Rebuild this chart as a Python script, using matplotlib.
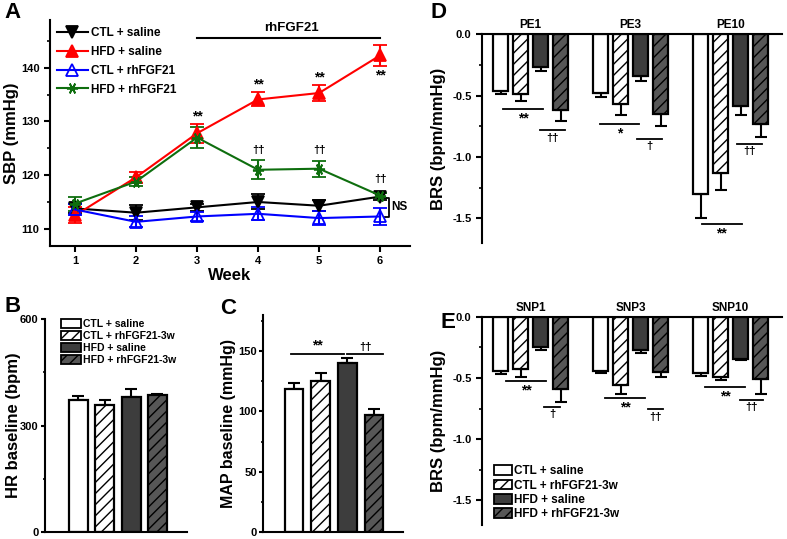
import numpy as np
import matplotlib
matplotlib.use("Agg")
import matplotlib.pyplot as plt
from matplotlib.patches import Patch
from matplotlib.lines import Line2D
from matplotlib.ticker import AutoMinorLocator
import matplotlib.transforms as mtrans

plt.rcParams['font.family'] = ['Liberation Sans', 'DejaVu Sans']
plt.rcParams['font.weight'] = 'bold'
plt.rcParams['axes.unicode_minus'] = False
plt.rcParams['axes.linewidth'] = 1.5

# ---- panel A data (SBP by week) ----
weeks = [1, 2, 3, 4, 5, 6]
ctl_saline = [113.8, 113.0, 114.0, 115.0, 114.3, 116.0]
ctl_saline_err = [0.8, 1.4, 0.7, 1.4, 1.0, 0.7]
hfd_saline = [112.5, 119.6, 127.8, 134.1, 135.3, 142.3]
hfd_saline_err = [1.5, 1.0, 1.8, 1.3, 1.5, 1.9]
ctl_rh = [113.6, 111.3, 112.3, 112.8, 112.0, 112.3]
ctl_rh_err = [1.0, 1.0, 0.9, 1.2, 1.3, 1.6]
hfd_rh = [114.7, 118.8, 127.0, 121.0, 121.2, 116.2]
hfd_rh_err = [1.3, 0.8, 2.0, 1.8, 1.5, 0.5]
a_labels = ['CTL + saline', 'HFD + saline', 'CTL + rhFGF21', 'HFD + rhFGF21']
a_stars = [(3, 130.9, '**'), (4, 136.8, '**'), (5, 138.2, '**'), (6, 138.5, '**')]
a_daggers = [(4, 124.7, '††'), (5, 124.7, '††'), (6, 119.2, '††')]

# ---- bar groups ----
groups = ['CTL + saline', 'CTL + rhFGF21-3w', 'HFD + saline', 'HFD + rhFGF21-3w']
hr_vals = [371, 358, 380, 386]
hr_err = [12, 13, 24, 3]
map_vals = [118.5, 125.5, 140, 97]
map_err = [5.5, 6, 4, 5]

pe_labels = ['PE1', 'PE3', 'PE10']
pe_vals = [[-0.46, -0.49, -0.27, -0.62],
           [-0.48, -0.57, -0.34, -0.65],
           [-1.30, -1.13, -0.58, -0.73]]
pe_err = [[0.03, 0.05, 0.03, 0.09],
          [0.03, 0.09, 0.04, 0.10],
          [0.20, 0.14, 0.08, 0.11]]
pe_sig = [(0.13, 2.13, -0.61, '**'), (1.98, 3.23, -0.78, '††'),
          (4.98, 6.93, -0.73, '*'), (6.83, 8.07, -0.85, '†'),
          (10.06, 12.06, -1.545, '**'), (11.84, 13.06, -0.89, '††')]

snp_labels = ['SNP1', 'SNP3', 'SNP10']
snp_vals = [[-0.44, -0.43, -0.25, -0.59],
            [-0.44, -0.56, -0.27, -0.45],
            [-0.46, -0.49, -0.345, -0.51]]
snp_err = [[0.03, 0.06, 0.02, 0.11],
           [0.02, 0.07, 0.03, 0.04],
           [0.02, 0.03, 0.01, 0.12]]
snp_sig = [(0.28, 2.28, -0.527, '**'), (2.18, 2.98, -0.735, '†'),
           (5.23, 7.23, -0.66, '**'), (7.38, 8.13, -0.757, '††'),
           (10.23, 12.23, -0.573, '**'), (11.98, 13.13, -0.676, '††')]

faces = ['white', 'white', '#3d3d3d', '#575757']
hatches = [None, '///', None, '///']

W, H = 787, 539
fig = plt.figure(figsize=(W / 100, H / 100), dpi=100)


def rect(l, r, t, b):
    return [l / W, 1 - b / H, (r - l) / W, (b - t) / H]


def style_ax(ax, pad=3.5, length=4):
    ax.tick_params(direction='out', width=1.5, length=length, labelsize=8, pad=pad)
    ax.tick_params(which='minor', direction='out', width=1.2, length=length * 0.6)
    for lab in ax.get_xticklabels() + ax.get_yticklabels():
        lab.set_fontweight('bold')


def place_ylabel(ax, text, right_px, l, r, size=12):
    ax.set_ylabel(text, fontsize=size, fontweight='bold')
    ax.yaxis.set_label_coords((right_px - l) / (r - l), 0.5)


# ---------------- A ----------------
ax = fig.add_axes(rect(50, 410, 20, 246))
series = [(ctl_saline, ctl_saline_err, 'black', 'v', 'black'),
          (hfd_saline, hfd_saline_err, '#ff0000', '^', '#ff0000'),
          (ctl_rh, ctl_rh_err, '#0000ff', '^', 'none'),
          (hfd_rh, hfd_rh_err, '#0e6e0e', (6, 2, 90), '#0e6e0e')]
handles = []
for (vals, err, col, mk, fc), lab in zip(series, a_labels):
    ax.errorbar(weeks, vals, yerr=err, color=col, lw=1.5, marker=mk, ms=8,
                mfc=fc, mec=col, mew=1.3, capsize=5, capthick=1.5, elinewidth=1.5)
    handles.append(Line2D([], [], color=col, lw=1.5, marker=mk, ms=8, mfc=fc, mec=col, mew=1.3))
ax.set_xlim(0.59, 6.49)
ax.set_ylim(106.8, 148.9)
ax.set_xticks(weeks)
ax.set_yticks([110, 120, 130, 140])
ax.yaxis.set_minor_locator(AutoMinorLocator(2))
ax.spines['top'].set_visible(False)
ax.spines['right'].set_visible(False)
style_ax(ax)
ax.set_xlabel('Week', fontsize=12, fontweight='bold', labelpad=1)
place_ylabel(ax, 'SBP (mmHg)', 19, 50, 410)
leg = ax.legend(handles, a_labels, loc='upper left', bbox_to_anchor=(0.0, 1.0), frameon=False,
                prop={'size': 8.5, 'weight': 'bold'}, handlelength=2.6, handletextpad=0.3,
                labelspacing=0.58, borderaxespad=0.2)
for x, y, t in a_stars:
    ax.text(x, y, t, ha='center', va='center', fontsize=10, fontweight='bold')
for x, y, t in a_daggers:
    ax.text(x, y, t, ha='center', va='center', fontsize=8, fontweight='bold')
ax.plot([3, 6], [145.6, 145.6], color='black', lw=1.5, clip_on=False)
ax.text(4.55, 146.3, 'rhFGF21', ha='center', va='bottom', fontsize=9.5, fontweight='bold')
ax.plot([6.08, 6.14, 6.14, 6.08], [115.8, 115.8, 112.2, 112.2], color='black', lw=1.3, clip_on=False)
ax.text(6.18, 114.0, 'NS', ha='left', va='center', fontsize=8.5, fontweight='bold', clip_on=False)


def draw_bars(ax, x, vals, errs, width, down=False):
    for i in range(4):
        ax.bar(x[i], vals[i], width=width, color=faces[i], edgecolor='black', lw=1.6,
               hatch=hatches[i], zorder=2)
        e = [[errs[i]], [0]] if down else [[0], [errs[i]]]
        ax.errorbar(x[i], vals[i], yerr=e, color='black', lw=0, elinewidth=1.5,
                    capsize=4.5, capthick=1.5, zorder=1)


def bar_legend(ax, loc, anchor, size, hl):
    hs = [Patch(facecolor=faces[i], edgecolor='black', lw=1.3, hatch=hatches[i]) for i in range(4)]
    ax.legend(hs, groups, loc=loc, bbox_to_anchor=anchor, frameon=False,
              prop={'size': size, 'weight': 'bold'}, handlelength=hl, handleheight=0.9,
              handletextpad=0.2, labelspacing=0.2, borderaxespad=0.0)


# ---------------- B ----------------
ax = fig.add_axes(rect(45, 187, 319, 532))
xb = np.arange(4)
draw_bars(ax, xb, hr_vals, hr_err, 0.72)
ax.set_xlim(-1.27, 4.12)
ax.set_ylim(0, 600)
ax.set_yticks([0, 300, 600])
ax.yaxis.set_minor_locator(AutoMinorLocator(2))
ax.set_xticks([])
ax.spines['top'].set_visible(False)
ax.spines['right'].set_visible(False)
style_ax(ax, pad=1.5, length=3)
place_ylabel(ax, 'HR baseline (bpm)', 21, 45, 187)
bar_legend(ax, 'upper left', (0.08, 1.02), 7.5, 2.0)

# ---------------- C ----------------
ax = fig.add_axes(rect(263, 403, 315, 532))
draw_bars(ax, xb, map_vals, map_err, 0.69)
ax.set_xlim(-1.16, 4.08)
ax.set_ylim(0, 180)
ax.set_yticks([0, 50, 100, 150])
ax.yaxis.set_minor_locator(AutoMinorLocator(2))
ax.set_xticks([])
ax.spines['top'].set_visible(False)
ax.spines['right'].set_visible(False)
style_ax(ax, pad=1.2, length=3)
place_ylabel(ax, 'MAP baseline (mmHg)', 236, 263, 403, size=11.5)
ax.plot([-0.12, 1.86], [148, 148], color='black', lw=1.3)
ax.plot([2.0, 3.32], [148, 148], color='black', lw=1.3)
ax.text(0.87, 149, '**', ha='center', va='bottom', fontsize=10, fontweight='bold')
ax.text(2.66, 149, '††', ha='center', va='bottom', fontsize=8, fontweight='bold')


# ---------------- D / E ----------------
def brs_panel(r, px, labels, vals, errs, sig, legend=False):
    ax = fig.add_axes(r)
    for g in range(3):
        x = g * 5 + np.arange(4)
        draw_bars(ax, x, vals[g], errs[g], 0.75, down=True)
        ax.text(g * 5 + 1.5, 1.015, labels[g], ha='center', va='bottom', fontsize=8.5,
                fontweight='bold', transform=mtrans.blended_transform_factory(ax.transData, ax.transAxes))
    for x1, x2, y, t in sig:
        ax.plot([x1, x2], [y, y], color='black', lw=1.3)
        ax.text((x1 + x2) / 2, y - 0.02, t, ha='center', va='top',
                fontsize=10 if '*' in t else 8, fontweight='bold')
    ax.set_xlim(-0.925, 14.075)
    ax.set_ylim(-1.7, 0)
    ax.set_yticks([0, -0.5, -1.0, -1.5])
    ax.set_yticklabels(['0.0', '-0.5', '-1.0', '-1.5'])
    ax.yaxis.set_minor_locator(AutoMinorLocator(2))
    ax.set_xticks([])
    ax.spines['bottom'].set_visible(False)
    ax.spines['right'].set_visible(False)
    style_ax(ax)
    place_ylabel(ax, 'BRS (bpm/mmHg)', 446, px[0], px[1])
    if legend:
        bar_legend(ax, 'lower left', (0.025, 0.0), 8.5, 1.5)
    return ax


brs_panel(rect(482, 782, 34.3, 243), (482, 782), pe_labels, pe_vals, pe_err, pe_sig)
brs_panel(rect(482, 782, 316.7, 525), (482, 782), snp_labels, snp_vals, snp_err, snp_sig, legend=True)

# panel letters
for x, y, t in [(4, 12, 'A'), (4, 306, 'B'), (220, 308, 'C'), (430, 12, 'D'), (441, 322, 'E')]:
    fig.text(x / W, 1 - y / H, t, fontsize=16, fontweight='bold', va='center', ha='left')

fig.savefig('out.png', dpi=100)
